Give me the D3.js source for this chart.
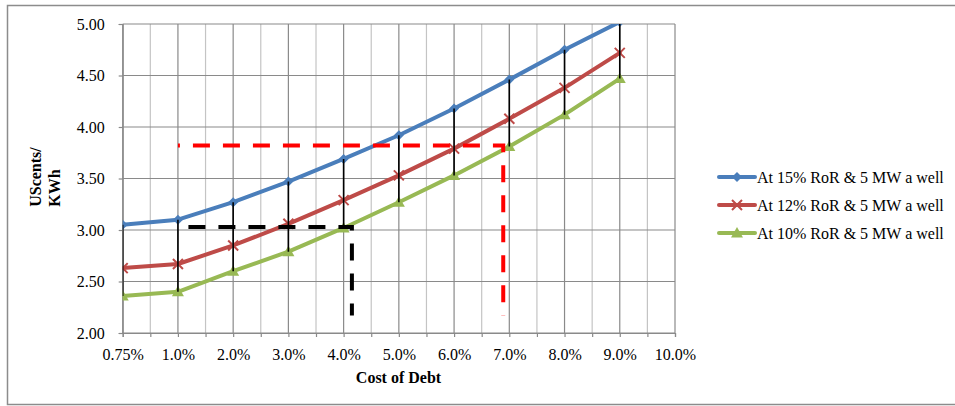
<!DOCTYPE html>
<html>
<head>
<meta charset="utf-8">
<script src="https://cdn.jsdelivr.net/npm/d3@7/dist/d3.min.js"></script>
<style>
  html, body { margin: 0; padding: 0; background: #fff; }
  svg { display: block; font-family: "Liberation Serif", "Times New Roman", serif; }
</style>
</head>
<body>
<svg id="chart" width="955" height="406"></svg>
<script>
// Cost of debt categories (x axis) and levelised tariff per series (UScents/KWh)
const categories = ["0.75%", "1.0%", "2.0%", "3.0%", "4.0%", "5.0%", "6.0%", "7.0%", "8.0%", "9.0%", "10.0%"];
const ror15 = [3.05, 3.10, 3.27, 3.47, 3.69, 3.92, 4.18, 4.46, 4.75, 5.02];
const ror12 = [2.63, 2.67, 2.85, 3.06, 3.29, 3.53, 3.79, 4.08, 4.38, 4.72];
const ror10 = [2.36, 2.40, 2.60, 2.79, 3.02, 3.27, 3.53, 3.81, 4.12, 4.47];
const seriesNames = ["At 15% RoR & 5 MW a well", "At 12% RoR & 5 MW a well", "At 10% RoR & 5 MW a well"];
const yTicks = [2.00, 2.50, 3.00, 3.50, 4.00, 4.50, 5.00];

// Read-off guides: [category position, tariff]
const redGuide = [[1, 3.82], [6.89, 3.82], [6.89, 2.17]];
const blackGuide = [[1.19, 3.03], [4.15, 3.03], [4.15, 2.17]];

const svg = d3.select("#chart");

// outer chart frame
svg.append("rect")
  .attr("x", 7.5).attr("y", 5.5).attr("width", 960).attr("height", 399)
  .attr("fill", "#fff").attr("stroke", "#8c8c8c").attr("stroke-width", 1.5);

const plot = { left: 122.7, right: 675, top: 24, bottom: 333 };

const x = d3.scaleLinear().domain([0, categories.length - 1]).range([plot.left, plot.right]);
const y = d3.scaleLinear().domain([2, 5]).range([plot.bottom, plot.top]);

const halfSteps = d3.range(0, categories.length - 0.5, 0.5);

// gridlines
const grid = svg.append("g");
grid.selectAll("line.vminor").data(halfSteps.filter(d => d % 1 !== 0)).join("line")
  .attr("x1", d => x(d)).attr("x2", d => x(d))
  .attr("y1", plot.top).attr("y2", plot.bottom)
  .attr("stroke", "#c4c4c4").attr("stroke-width", 1.2);
grid.selectAll("line.vmajor").data(halfSteps.filter(d => d % 1 === 0)).join("line")
  .attr("x1", d => x(d)).attr("x2", d => x(d))
  .attr("y1", plot.top).attr("y2", plot.bottom)
  .attr("stroke", "#8a8a8a").attr("stroke-width", 1.2);
grid.selectAll("line.h").data(yTicks).join("line")
  .attr("x1", plot.left).attr("x2", plot.right)
  .attr("y1", d => y(d)).attr("y2", d => y(d))
  .attr("stroke", "#8a8a8a").attr("stroke-width", 1.2);

// axes
const xAxis = d3.axisBottom(x)
  .tickValues(halfSteps)
  .tickSize(4)
  .tickPadding(12)
  .tickFormat(d => (d % 1 === 0 ? categories[d] : ""));
const gx = svg.append("g").attr("transform", `translate(0,${plot.bottom})`).call(xAxis);

const yAxis = d3.axisLeft(y)
  .tickValues(yTicks)
  .tickSize(4)
  .tickPadding(14)
  .tickFormat(d3.format(".2f"));
const gy = svg.append("g").attr("transform", `translate(${plot.left},0)`).call(yAxis);

[gx, gy].forEach(g => {
  g.select(".domain").attr("stroke", "#8a8a8a").attr("stroke-width", 1.2);
  g.selectAll(".tick line").attr("stroke", "#8a8a8a").attr("stroke-width", 1.2);
  g.selectAll(".tick text")
    .attr("font-family", "Liberation Serif, Times New Roman, serif")
    .attr("font-size", 16).attr("fill", "#000");
});

// axis titles
svg.append("text")
  .attr("x", 398.5).attr("y", 383)
  .attr("text-anchor", "middle")
  .attr("font-size", 16).attr("font-weight", "bold")
  .text("Cost of Debt");

const yTitle = svg.append("g").attr("font-size", 16).attr("font-weight", "bold");
yTitle.append("text")
  .attr("transform", "translate(41,177) rotate(-90)")
  .attr("text-anchor", "middle")
  .text("UScents/");
yTitle.append("text")
  .attr("transform", "translate(60,188) rotate(-90)")
  .attr("text-anchor", "middle")
  .text("KWh");

// clipped plot content
svg.append("defs").append("clipPath").attr("id", "plotClip")
  .append("rect")
  .attr("x", plot.left).attr("y", plot.top)
  .attr("width", plot.right - plot.left).attr("height", plot.bottom - plot.top);

const body = svg.append("g").attr("clip-path", "url(#plotClip)");

const colors = ["#4a7ebb", "#be4b48", "#98b954"];
const seriesData = [ror15, ror12, ror10];

const line = d3.line().x((d, i) => x(i)).y(d => y(d));

seriesData.forEach((vals, k) => {
  body.append("path")
    .datum(vals)
    .attr("d", line)
    .attr("fill", "none")
    .attr("stroke", colors[k])
    .attr("stroke-width", 4)
    .attr("stroke-linejoin", "round")
    .attr("stroke-linecap", "round");
});

// markers
function drawMarker(g, k, cx, cy) {
  if (k === 0) {
    g.append("path")
      .attr("d", `M${cx},${cy - 5}L${cx + 5},${cy}L${cx},${cy + 5}L${cx - 5},${cy}Z`)
      .attr("fill", colors[0]);
  } else if (k === 1) {
    g.append("path")
      .attr("d", `M${cx - 5},${cy - 5}L${cx + 5},${cy + 5}M${cx - 5},${cy + 5}L${cx + 5},${cy - 5}`)
      .attr("stroke", colors[1]).attr("stroke-width", 2).attr("fill", "none");
  } else {
    g.append("path")
      .attr("d", `M${cx},${cy - 6}L${cx + 6},${cy + 4.5}L${cx - 6},${cy + 4.5}Z`)
      .attr("fill", colors[2]);
  }
}

seriesData.forEach((vals, k) => {
  const mg = body.append("g");
  vals.forEach((v, i) => drawMarker(mg, k, x(i), y(v)));
});

// high-low lines between the highest and lowest series at each category
body.append("g").selectAll("line").data(ror15).join("line")
  .attr("x1", (d, i) => x(i)).attr("x2", (d, i) => x(i))
  .attr("y1", d => y(d))
  .attr("y2", (d, i) => y(ror10[i]))
  .attr("stroke", "#000").attr("stroke-width", 1.6);

// dashed read-off guides
const guideLine = d3.line().x(d => x(d[0])).y(d => y(d[1]));
body.append("path").datum(redGuide).attr("d", guideLine)
  .attr("fill", "none").attr("stroke", "#ff0000").attr("stroke-width", 4)
  .attr("stroke-dasharray", "17,13").attr("stroke-dashoffset", 15);
body.append("path").datum(blackGuide).attr("d", guideLine)
  .attr("fill", "none").attr("stroke", "#000").attr("stroke-width", 4)
  .attr("stroke-dasharray", "17,13");

// legend
const legend = svg.append("g");
seriesNames.forEach((name, k) => {
  const ly = 177 + k * 28;
  legend.append("line")
    .attr("x1", 719).attr("x2", 755).attr("y1", ly).attr("y2", ly)
    .attr("stroke", colors[k]).attr("stroke-width", 4).attr("stroke-linecap", "round");
  drawMarker(legend, k, 737, ly);
  legend.append("text")
    .attr("x", 757).attr("y", ly + 5.5)
    .attr("font-size", 16)
    .text(name);
});
</script>
</body>
</html>
